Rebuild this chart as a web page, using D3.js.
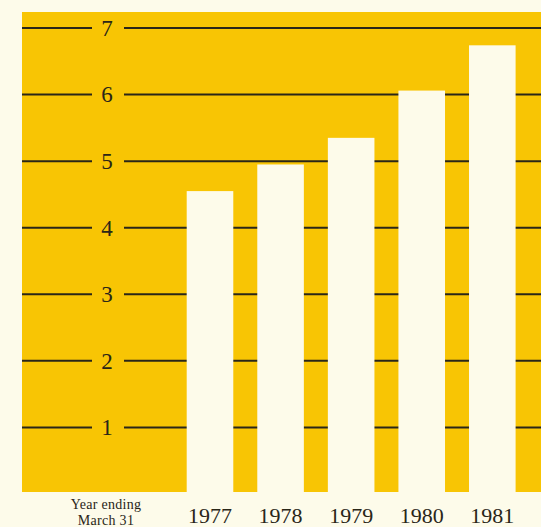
<!DOCTYPE html>
<html><head><meta charset="utf-8">
<script src="https://cdn.jsdelivr.net/npm/d3@7"></script>
<style>html,body{margin:0;padding:0;background:#fdfbea;}svg{display:block;}</style>
</head><body>
<script>
const years = ["1977","1978","1979","1980","1981"];
const values = [4.55, 4.95, 5.35, 6.06, 6.74];
const yTicks = [1,2,3,4,5,6,7];
const axisNote = ["Year ending","March 31"];

const W = 541, H = 527;
const svg = d3.select("body").append("svg").attr("width", W).attr("height", H);
const bg = "#fdfbea", gold = "#f8c504", ink = "#2a2618";

const y = d3.scaleLinear().domain([0,7]).range([494, 28]);
const x = d3.scaleBand().domain(years).range([186.7, 515.6]).paddingInner(0.34).paddingOuter(0);

svg.append("rect").attr("width", W).attr("height", H).attr("fill", bg);
svg.append("rect").attr("x", 22).attr("y", 12).attr("width", W-22).attr("height", y(0)-2-12).attr("fill", gold);

const labelX = 107;
const g = svg.append("g");
yTicks.forEach(t => {
  g.append("line").attr("x1", 22).attr("x2", 92).attr("y1", y(t)).attr("y2", y(t))
    .attr("stroke", ink).attr("stroke-width", 2);
  g.append("line").attr("x1", 124).attr("x2", W).attr("y1", y(t)).attr("y2", y(t))
    .attr("stroke", ink).attr("stroke-width", 2);
  g.append("text").attr("x", labelX).attr("y", y(t)).attr("dy", "0.34em")
    .attr("text-anchor","middle").attr("font-family","Liberation Serif, serif")
    .attr("font-size", 23).attr("fill", ink).text(t);
});

svg.selectAll("rect.bar").data(years).enter().append("rect").attr("class","bar")
  .attr("x", d => x(d)).attr("width", x.bandwidth())
  .attr("y", (d,i) => y(values[i])).attr("height", (d,i) => y(0) - y(values[i]) + 4)
  .attr("fill", bg);

svg.selectAll("text.yr").data(years).enter().append("text").attr("class","yr")
  .attr("x", d => x(d) + x.bandwidth()/2).attr("y", 523)
  .attr("text-anchor","middle").attr("font-family","Liberation Serif, serif")
  .attr("font-size", 22).attr("fill", ink).text(d => d);

axisNote.forEach((s,i) => {
  svg.append("text").attr("x", 106).attr("y", 509 + i*16)
    .attr("text-anchor","middle").attr("font-family","Liberation Serif, serif")
    .attr("font-size", 14).attr("letter-spacing", 0.3).attr("fill", ink).text(s);
});
</script>
</body></html>
